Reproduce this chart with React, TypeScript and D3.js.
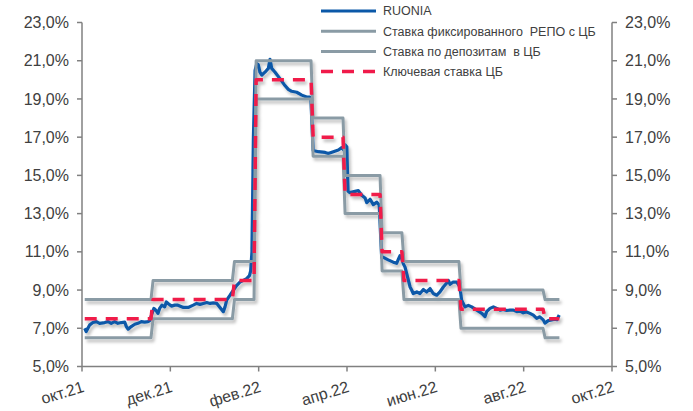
import React from "react";
import * as d3 from "d3";

// ---- data ----
const xTickDay = [0, 42, 84, 126, 168, 210, 252];
const xTickLabel = ["окт.21", "дек.21", "фев.22", "апр.22", "июн.22", "авг.22", "окт.22"];
const yTicks = [5, 7, 9, 11, 13, 15, 17, 19, 21, 23];

// step series (trading-day index where each level starts)
const stepDay = [1.3, 33.3, 72, 82.3, 109.4, 124.6, 142.2, 152.6, 179.7, 219.7];
const lastDay = 227;
const keyRate = [7.5, 8.5, 9.5, 20, 17, 14, 11, 9.5, 8, 7.5];
const repoRate = [8.5, 9.5, 10.5, 21, 18, 15, 12, 10.5, 9, 8.5];
const depoRate = [6.5, 7.5, 8.5, 19, 16, 13, 10, 8.5, 7, 6.5];

const ruoniaDay = [
  1.3, 2.0, 3.7, 5.2, 6.8, 8.4, 10.8, 12.4, 13.9, 15.5, 17.1, 18.7, 20.3, 21.1, 21.9, 23.4, 25.1, 26.6, 28.2, 29.8,
  31.4, 32.2, 33.3, 34.2, 35.3, 36.1, 36.9, 38.0, 39.3, 40.1, 40.9, 42.5, 44.1, 45.6, 48.2, 50.5, 52.9, 54.5, 56.1, 57.7,
  59.3, 60.9, 62.4, 64.1, 65.6, 67.2, 68.0, 68.8, 70.4, 71.9, 73.6, 75.1, 76.7, 78.3, 79.6, 80.2, 80.8, 81.5, 82.3, 83.1,
  83.8, 84.6, 85.5, 87.0, 88.6, 89.4, 90.2, 91.8, 94.2, 96.5, 98.1, 99.7, 102.1, 104.5, 106.8, 108.4, 108.8, 109.9, 112.4, 115.6,
  117.1, 119.5, 121.9, 123.5, 124.3, 125.1, 125.9, 126.5, 127.4, 129.3, 131.4, 133.0, 134.6, 135.4, 137.0, 138.5, 140.2, 141.3, 142.5, 143.3,
  145.6, 148.0, 149.6, 150.4, 151.2, 152.0, 152.8, 153.6, 156.0, 156.8, 157.5, 159.2, 160.7, 162.3, 163.9, 165.5, 167.0, 168.7, 170.2, 171.8,
  173.4, 174.2, 175.0, 176.5, 178.2, 179.7, 180.5, 182.1, 183.7, 185.3, 187.7, 190.1, 191.6, 192.4, 194.0, 195.6, 197.2, 198.8, 200.3, 201.9,
  203.5, 205.1, 206.7, 208.3, 209.8, 211.4, 213.0, 214.6, 216.2, 217.7, 219.3, 220.1, 221.7, 223.3, 224.9, 225.8, 226.9,
];
const ruoniaValue = [
  7.0, 6.83, 7.18, 7.3, 7.35, 7.26, 7.3, 7.35, 7.26, 7.35, 7.26, 7.3, 7.32, 7.09, 6.95, 7.09, 7.21, 7.26, 7.35, 7.32,
  7.35, 7.4, 7.78, 8.04, 7.92, 7.78, 8.04, 8.21, 8.12, 8.38, 8.3, 8.16, 8.21, 8.21, 8.09, 8.09, 8.21, 8.3, 8.25, 8.3,
  8.35, 8.3, 8.33, 8.3, 8.09, 7.87, 8.12, 8.47, 8.73, 8.99, 9.25, 9.42, 9.51, 9.6, 9.75, 10.0, 11.0, 17.0, 20.5, 20.85,
  20.8, 20.4, 20.25, 20.4, 20.6, 21.07, 20.6, 20.4, 20.05, 19.7, 19.5, 19.4, 19.35, 19.2, 19.1, 19.1, 19.05, 16.3, 16.24, 16.2,
  16.14, 16.24, 16.33, 16.45, 16.35, 16.6, 16.5, 14.17, 14.1, 14.15, 14.2, 13.96, 13.82, 13.57, 13.75, 13.47, 13.6, 13.45, 10.71, 10.71,
  10.58, 10.46, 10.4, 10.6, 10.8, 10.65, 10.37, 10.2, 9.16, 8.99, 8.82, 8.9, 8.82, 9.03, 8.9, 9.08, 8.82, 8.73, 8.9, 9.16,
  9.37, 9.5, 9.3, 9.42, 9.42, 9.16, 8.47, 8.12, 8.2, 8.12, 7.95, 7.78, 7.61, 7.87, 8.04, 8.12, 8.04, 7.95, 7.98, 7.93,
  7.95, 7.95, 7.87, 7.9, 7.81, 7.85, 7.78, 7.69, 7.52, 7.6, 7.44, 7.27, 7.4, 7.44, 7.47, 7.45, 7.69,
];

const legendLabels = [
  "RUONIA",
  "Ставка фиксированного  РЕПО с ЦБ",
  "Ставка по депозитам  в ЦБ",
  "Ключевая ставка ЦБ",
];

// ---- styles ----
const W = 693;
const H = 411;
const BLUE = "#0b58a8";
const GRAY = "#8a9ba5";
const RED = "#f01a4a";
const AXIS = "#808080";
const TEXT = "#404040";
const FONT = "'Liberation Sans', Arial, sans-serif";

type P = [number, number];

function stepPoints(vals: number[]): P[] {
  const pts: P[] = [];
  const hw = 0.5;
  vals.forEach((v, i) => {
    const s = stepDay[i];
    const e = i + 1 < stepDay.length ? stepDay[i + 1] : lastDay;
    pts.push([i === 0 ? s : s + hw, v]);
    pts.push([i + 1 < stepDay.length ? e - hw : e, v]);
  });
  return pts;
}

export default function App() {
  const x = d3.scaleLinear().domain([0, 252]).range([82, 612]);
  const y = d3.scaleLinear().domain([5, 23]).range([366.5, 22.5]);
  const line = d3
    .line<P>()
    .x((d) => x(d[0]))
    .y((d) => y(d[1]))
    .curve(d3.curveLinear);

  const ruPts: P[] = ruoniaDay.map((d, i) => [d, ruoniaValue[i]]);
  const styles = [
    { color: BLUE, dash: undefined as string | undefined, w: 3.2 },
    { color: GRAY, dash: undefined, w: 3 },
    { color: GRAY, dash: undefined, w: 3 },
    { color: RED, dash: "12,9", w: 3.5 },
  ];

  return (
    <svg
      width={W}
      height={H}
      style={{ position: "absolute", left: 0, top: 0, background: "#fff" }}
      fontFamily={FONT}
    >
      <defs>
        <filter id="sh" x="-10%" y="-10%" width="120%" height="120%">
          <feDropShadow dx="2" dy="3" stdDeviation="1.6" floodColor="#000" floodOpacity="0.25" />
        </filter>
      </defs>
      <rect x={0} y={0} width={W} height={H} fill="#fff" />

      {/* series */}
      <g filter="url(#sh)" fill="none" strokeLinejoin="round">
        <path d={line(ruPts) || ""} stroke={BLUE} strokeWidth={3.2} />
        <path d={line(stepPoints(repoRate)) || ""} stroke={GRAY} strokeWidth={3} />
        <path d={line(stepPoints(depoRate)) || ""} stroke={GRAY} strokeWidth={3} />
        <path d={line(stepPoints(keyRate)) || ""} stroke={RED} strokeWidth={3.5} strokeDasharray="12,9" />
      </g>

      {/* axes */}
      <g stroke={AXIS} strokeWidth={1.5}>
        <line x1={x(0)} x2={x(0)} y1={y(23)} y2={y(5)} />
        <line x1={x(252)} x2={x(252)} y1={y(23)} y2={y(5)} />
        <line x1={x(0)} x2={x(252)} y1={y(5)} y2={y(5)} />
        {yTicks.map((t) => (
          <g key={"t" + t}>
            <line x1={x(0) - 5} x2={x(0)} y1={y(t)} y2={y(t)} />
            <line x1={x(252)} x2={x(252) + 5} y1={y(t)} y2={y(t)} />
          </g>
        ))}
        {xTickDay.map((d) => (
          <line key={"x" + d} x1={x(d)} x2={x(d)} y1={y(5)} y2={y(5) + 5} />
        ))}
      </g>

      {/* labels */}
      <g fill={TEXT} fontSize={16}>
        {yTicks.map((t) => (
          <text key={"l" + t} x={x(0) - 13} y={y(t)} dy="0.35em" textAnchor="end">
            {t.toFixed(1).replace(".", ",") + "%"}
          </text>
        ))}
        {yTicks.map((t) => (
          <text key={"r" + t} x={x(252) + 13} y={y(t)} dy="0.35em" textAnchor="start">
            {t.toFixed(1).replace(".", ",") + "%"}
          </text>
        ))}
        {xTickDay.map((d, i) => (
          <text
            key={"xl" + d}
            textAnchor="end"
            transform={`translate(${x(d) + 3},${y(5) + 25}) rotate(-17)`}
          >
            {xTickLabel[i]}
          </text>
        ))}
      </g>

      {/* legend */}
      <g fontSize={12.5} fill={TEXT}>
        {legendLabels.map((lab, i) => {
          const ly = 11 + i * 20.2;
          const s = styles[i];
          return (
            <g key={lab}>
              <line
                x1={321}
                x2={376}
                y1={ly}
                y2={ly}
                stroke={s.color}
                strokeWidth={s.w}
                strokeDasharray={s.dash}
              />
              <text x={383} y={ly} dy="0.35em" style={{ whiteSpace: "pre" }}>
                {lab}
              </text>
            </g>
          );
        })}
      </g>
    </svg>
  );
}
